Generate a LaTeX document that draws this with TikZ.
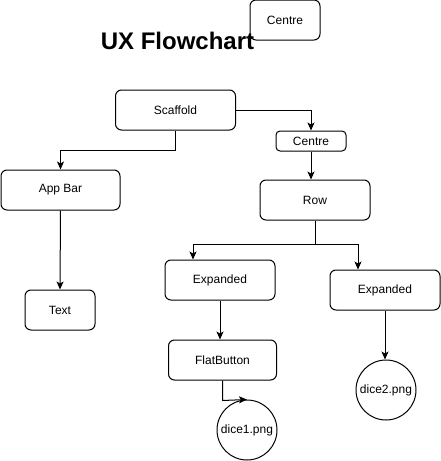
\documentclass[tikz,border=0pt]{standalone}
\usepackage{fontspec}
\setmainfont{Liberation Sans}
\usetikzlibrary{arrows.meta}
\tikzset{
  widget/.style={draw,rounded corners=6pt,line width=1pt,inner sep=0pt,
    minimum width=110pt,minimum height=40pt,font=\fontsize{12}{14}\selectfont},
  asset/.style={draw,circle,line width=1pt,inner sep=0pt,minimum size=60pt,
    font=\fontsize{12}{14}\selectfont},
  link/.style={line width=1pt,-{Stealth[length=8pt,width=7pt,inset=2pt]}}
}

\begin{document}
\begin{tikzpicture}[x=1pt,y=-1pt]
    \useasboundingbox (0,0) rectangle (441,461);
    \node[font=\fontsize{24}{28}\selectfont\bfseries,anchor=base] (title) at (177.5,49) {UX Flowchart};
    \node[widget,minimum width=70pt] (topcentre) at (285,20) {Centre};
    \node[widget,minimum width=120pt] (scaffold) at (175.5,110) {Scaffold};
    \node[widget,minimum width=70pt,minimum height=20pt,rounded corners=4pt] (centre) at (311,141) {Centre};
    \node[widget,minimum width=119pt] (appbar) at (60.5,190) {App Bar};
    \node[widget] (row) at (315,200) {Row};
    \node[widget,minimum width=70pt] (text) at (60,310) {Text};
    \node[widget] (exp1) at (220,280) {Expanded};
    \node[widget] (exp2) at (385,290) {Expanded};
    \node[widget,minimum width=108pt] (flatbtn) at (222.5,360) {FlatButton};
    \node[asset] (dice1) at (247,430) {dice1.png};
    \node[asset] (dice2) at (386,390) {dice2.png};
    % connectors
    \draw[link] (scaffold.east) -| (centre.north);
    \draw[link] (scaffold.south) -- ++(0,20) -| (appbar.north);
    \draw[link] (centre.south) -- (centre.south |- row.north);
    \draw[link] (appbar.south) -- (text.north);
    \draw[link] (row.south) -- ++(0,24) -| ([xshift=-27pt]exp1.north);
    \draw[link] (row.south) -- ++(0,24) -| ([xshift=-27pt]exp2.north);
    \draw[link] (exp1.south) -- (exp1.south |- flatbtn.north);
    \draw[link] (flatbtn.south) -- ++(0,20) -- (dice1.north);
    \draw[link] (exp2.south) -- (exp2.south |- dice2.north);
\end{tikzpicture}
\end{document}
